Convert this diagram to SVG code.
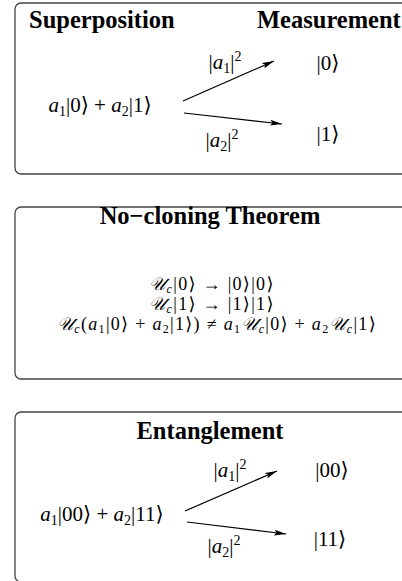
<svg xmlns="http://www.w3.org/2000/svg" width="402" height="581" viewBox="0 0 402 581">
<defs>
<marker id="ah" viewBox="0 0 12 6" refX="12" refY="3" markerWidth="12" markerHeight="6" markerUnits="userSpaceOnUse" orient="auto">
<path d="M0,0 L12,3 L0,6 L2.5,3 Z" fill="#000"/>
</marker>
</defs>
<style>
.box{fill:#fff;stroke:#444;stroke-width:1.3}
.title{font-family:"Liberation Serif","DejaVu Serif",serif;font-weight:bold;font-size:24.5px;fill:#000}
.m{font-family:"Liberation Serif","DejaVu Serif",serif;font-size:21px;fill:#000}
.m2{font-family:"Liberation Serif","DejaVu Serif",serif;font-size:18px;letter-spacing:1.3px;fill:#000}
.i{font-style:italic}
.s{font-size:14px}
.s2{font-size:12px}
.arr{stroke:#000;stroke-width:1.2;fill:none;marker-end:url(#ah)}
</style>
<g id="superposition">
<rect class="box" x="15" y="3" width="400" height="171" rx="6"/>
<text class="title" x="29" y="28">Superposition</text>
<text class="title" x="257" y="28">Measurement</text>
<text class="m" x="100" y="112" text-anchor="middle"><tspan class="i">a</tspan><tspan class="s" dy="4">1</tspan><tspan dy="-4">|0⟩ + </tspan><tspan class="i">a</tspan><tspan class="s" dy="4">2</tspan><tspan dy="-4">|1⟩</tspan></text>
<text class="m" x="225" y="69" text-anchor="middle">|<tspan class="i">a</tspan><tspan class="s" dy="4">1</tspan><tspan dy="-4">|</tspan><tspan class="s" dy="-8">2</tspan></text>
<text class="m" x="222" y="147" text-anchor="middle">|<tspan class="i">a</tspan><tspan class="s" dy="4">2</tspan><tspan dy="-4">|</tspan><tspan class="s" dy="-8">2</tspan></text>
<text class="m" x="328" y="70" text-anchor="middle">|0⟩</text>
<text class="m" x="328" y="141" text-anchor="middle">|1⟩</text>
</g>
<g id="nocloning">
<rect class="box" x="15" y="207" width="400" height="172" rx="6"/>
<text class="title" x="210" y="224" text-anchor="middle">No−cloning Theorem</text>
<text class="m2" x="212" y="290" text-anchor="middle"><tspan class="i">𝒰</tspan><tspan class="s2 i" dy="3">c</tspan><tspan dy="-3">|0⟩ → |0⟩|0⟩</tspan></text>
<text class="m2" x="212" y="310" text-anchor="middle"><tspan class="i">𝒰</tspan><tspan class="s2 i" dy="3">c</tspan><tspan dy="-3">|1⟩ → |1⟩|1⟩</tspan></text>
<text class="m2" x="217" y="330" text-anchor="middle"><tspan class="i">𝒰</tspan><tspan class="s2 i" dy="3">c</tspan><tspan dy="-3">(</tspan><tspan class="i">a</tspan><tspan class="s2" dy="3">1</tspan><tspan dy="-3">|0⟩ + </tspan><tspan class="i">a</tspan><tspan class="s2" dy="3">2</tspan><tspan dy="-3">|1⟩) ≠ </tspan><tspan class="i">a</tspan><tspan class="s2" dy="3">1</tspan><tspan class="i" dy="-3">𝒰</tspan><tspan class="s2 i" dy="3">c</tspan><tspan dy="-3">|0⟩ + </tspan><tspan class="i">a</tspan><tspan class="s2" dy="3">2</tspan><tspan class="i" dy="-3">𝒰</tspan><tspan class="s2 i" dy="3">c</tspan><tspan dy="-3">|1⟩</tspan></text>
</g>
<g id="entanglement">
<rect class="box" x="15" y="412" width="400" height="170" rx="6"/>
<text class="title" x="210" y="439" text-anchor="middle">Entanglement</text>
<text class="m" x="102" y="521" text-anchor="middle"><tspan class="i">a</tspan><tspan class="s" dy="4">1</tspan><tspan dy="-4">|00⟩ + </tspan><tspan class="i">a</tspan><tspan class="s" dy="4">2</tspan><tspan dy="-4">|11⟩</tspan></text>
<text class="m" x="230" y="477" text-anchor="middle">|<tspan class="i">a</tspan><tspan class="s" dy="4">1</tspan><tspan dy="-4">|</tspan><tspan class="s" dy="-8">2</tspan></text>
<text class="m" x="224" y="553" text-anchor="middle">|<tspan class="i">a</tspan><tspan class="s" dy="4">2</tspan><tspan dy="-4">|</tspan><tspan class="s" dy="-8">2</tspan></text>
<text class="m" x="332" y="477" text-anchor="middle">|00⟩</text>
<text class="m" x="330" y="546" text-anchor="middle">|11⟩</text>
</g>
<g id="connectors">
<line class="arr" x1="183" y1="101" x2="274" y2="61"/>
<line class="arr" x1="184" y1="113" x2="282" y2="124"/>
<line class="arr" x1="185" y1="511" x2="277" y2="471"/>
<line class="arr" x1="187" y1="522" x2="286" y2="534"/>
</g>
</svg>
